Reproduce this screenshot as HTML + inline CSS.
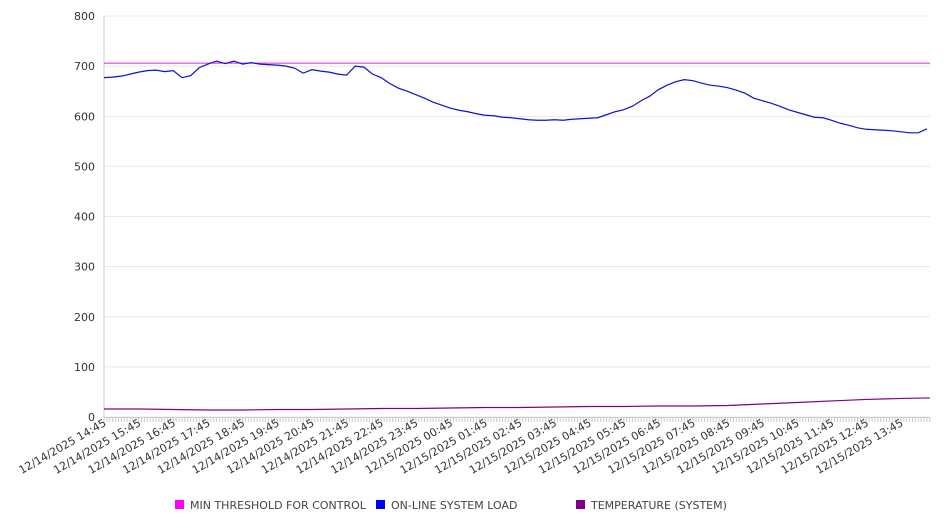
<!DOCTYPE html>
<html><head><meta charset="utf-8"><style>
body{margin:0;background:#fff;width:946px;height:526px;overflow:hidden;font-family:"DejaVu Sans","Liberation Sans",sans-serif;}
svg text{font-family:"DejaVu Sans","Liberation Sans",sans-serif;}
</style></head><body>
<svg id="chart" width="946" height="526" xmlns="http://www.w3.org/2000/svg"></svg>
<script>
const yTicks=[0,100,200,300,400,500,600,700,800];
const xLabels=["12/14/2025 14:45","12/14/2025 15:45","12/14/2025 16:45","12/14/2025 17:45","12/14/2025 18:45","12/14/2025 19:45","12/14/2025 20:45","12/14/2025 21:45","12/14/2025 22:45","12/14/2025 23:45","12/15/2025 00:45","12/15/2025 01:45","12/15/2025 02:45","12/15/2025 03:45","12/15/2025 04:45","12/15/2025 05:45","12/15/2025 06:45","12/15/2025 07:45","12/15/2025 08:45","12/15/2025 09:45","12/15/2025 10:45","12/15/2025 11:45","12/15/2025 12:45","12/15/2025 13:45"];
const thresholdValue=706;
// on-line system load, every 15 minutes from 14:45
const loadValues=[677,678,680,684,688,691,692,689,691,677,681,697,704,710,705,710,704,707,704,703,702,700,696,686,693,690,688,684,682,700,698,684,677,665,656,650,643,636,628,622,616,612,609,605,602,601,598,597,595,593,592,592,593,592,594,595,596,597,603,609,613,620,631,640,653,662,669,673,671,666,662,660,657,652,646,636,631,626,620,613,608,603,598,597,592,586,582,577,574,573,572,571,569,567,567,575];
// temperature, hourly from 14:45
const tempValues=[16,16,15,14,14,15,15,16,17,17,18,19,19,20,21,21,22,22,23,26,29,32,35,37,38];
const svg=document.getElementById('chart');
const NS='http://www.w3.org/2000/svg';
const X0=104,Y0=417,YTOP=16,HOURPX=34.65,XEND=930;
function y(v){return Y0-(v/800)*(Y0-YTOP);}
function xMin(m){return Math.min(X0+m*HOURPX/60,XEND);}
function mk(t,a,p){const e=document.createElementNS(NS,t);for(const k in a)e.setAttribute(k,a[k]);(p||svg).appendChild(e);return e;}
for(const v of yTicks){
  const g=mk('line',{x1:X0,x2:XEND,y1:y(v),y2:y(v),stroke:'#e8e8e8','stroke-width':1});
  
  
  const t=mk('text',{x:95,y:y(v)+4,'text-anchor':'end','font-size':11,fill:'#333'});t.textContent=v;
  
  
}
const ax=mk('line',{x1:X0,x2:X0,y1:YTOP,y2:Y0,stroke:'#ccc'});


const xa=mk('line',{x1:X0,x2:XEND,y1:Y0+0.5,y2:Y0+0.5,stroke:'#ccc'});


for(let m=0;X0+m*HOURPX/60<=XEND;m+=5){
  const tk=mk('line',{x1:xMin(m),x2:xMin(m),y1:Y0,y2:Y0+5,stroke:'#ccc'});
  
  
}
xLabels.forEach((s,i)=>{
  const xx=xMin(i*60)+3,yy=Y0+8;
  const t=mk('text',{x:xx,y:yy,'text-anchor':'end','font-size':11,fill:'#333',transform:`rotate(-30 ${xx} ${yy})`});t.textContent=s;
  
  
});
const th=mk('line',{x1:X0,x2:XEND,y1:y(thresholdValue),y2:y(thresholdValue),stroke:'#e020e0','stroke-width':1});


const tp=mk('polyline',{fill:'none',stroke:'#800080','stroke-width':1.2,points:tempValues.map((v,i)=>xMin(i*60)+','+y(v)).join(' ')});


const lp=mk('polyline',{fill:'none',stroke:'#1010d0','stroke-width':1.2,points:loadValues.map((v,i)=>xMin(i*15)+','+y(v)).join(' ')});


const legend=[["MIN THRESHOLD FOR CONTROL","#ff00ff",175],["ON-LINE SYSTEM LOAD","#0000ff",376],["TEMPERATURE (SYSTEM)","#800080",576]];
legend.forEach(([n,c,lx])=>{
  const r=mk('rect',{x:lx,y:500,width:9,height:9,fill:c});
  
  
  const t=mk('text',{x:lx+15,y:509,'font-size':11,fill:'#444'});t.textContent=n;
  
  
});
</script>
</body></html>
